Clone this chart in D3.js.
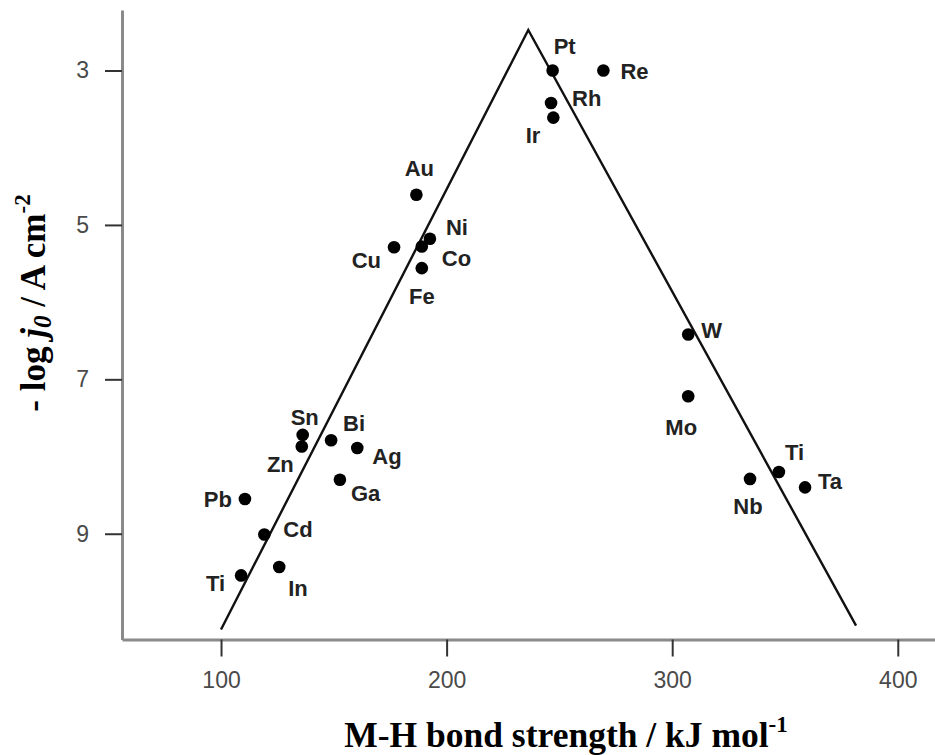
<!DOCTYPE html>
<html>
<head>
<meta charset="utf-8">
<script src="https://cdn.jsdelivr.net/npm/d3@7/dist/d3.min.js"></script>
<style>
  html, body { margin: 0; padding: 0; background: #fff; }
  svg { display: block; }
</style>
</head>
<body>
<svg id="chart" width="935" height="755"></svg>
<script>
// ---- data ----
const metals = ["Pt","Re","Rh","Ir","Au","Ni","Co","Cu","Fe","W","Mo","Ti","Nb","Ta","Sn","Zn","Bi","Ag","Ga","Pb","Cd","In","Ti"];
const bondStrength = [247.0,269.5,246.3,247.3,186.6,192.6,189.0,176.7,189.0,307.1,307.1,347.3,334.5,358.9,136.2,135.8,148.8,160.4,152.7,110.6,119.2,125.8,108.9];
const logJ0 = [3.0,3.0,3.42,3.61,4.61,5.18,5.28,5.29,5.56,6.42,7.22,8.20,8.29,8.40,7.72,7.87,7.79,7.89,8.30,8.55,9.01,9.43,9.54];
const volcanoX = [100, 236.2, 381.5];
const volcanoY = [10.24, 2.475, 10.19];
const xTicks = [100, 200, 300, 400];
const yTicks = [3, 5, 7, 9];

// ---- label placement (layout) ----
const labelPlace = [
  ["middle", 12, -24], ["start", 17, 1], ["start", 21, -5], ["end", -13, 17],
  ["middle", 3, -27], ["start", 16, -12], ["start", 20, 12], ["end", -13, 13],
  ["middle", 0, 28], ["start", 13, -4], ["middle", -7, 31], ["start", 6, -20],
  ["middle", -2, 27], ["start", 13, -6], ["middle", 2, -18], ["end", -8, 18],
  ["start", 12, -17], ["start", 15, 8], ["start", 11, 13], ["end", -13, 0],
  ["start", 19, -5], ["start", 9, 21], ["end", -16, 8]
];

const svg = d3.select("#chart");
const x = d3.scaleLinear().domain([56.1, 416.5]).range([122, 935]);
const y = d3.scaleLinear().domain([2.216, 10.37]).range([10, 639.5]);

// axes
const gx = svg.append("g").attr("transform", `translate(0,${y(10.37)})`)
  .call(d3.axisBottom(x).tickValues(xTicks).tickSize(17).tickSizeOuter(0).tickPadding(15));
const gy = svg.append("g").attr("transform", `translate(${x(56.1)},0)`)
  .call(d3.axisLeft(y).tickValues(yTicks).tickSize(17).tickSizeOuter(0).tickPadding(16));

[gx, gy].forEach(g => {
  g.select(".domain").attr("stroke", "#8a8a8a").attr("stroke-width", 3);
  g.selectAll(".tick line").attr("stroke", "#333").attr("stroke-width", 2);
  g.selectAll(".tick text").attr("fill", "#4a4a4a").attr("font-size", 23)
    .attr("font-family", "'Liberation Sans', Arial, sans-serif");
});

// volcano line
const line = d3.line().x(d => x(d[0])).y(d => y(d[1]));
svg.append("path")
  .datum(volcanoX.map((v, i) => [v, volcanoY[i]]))
  .attr("d", line).attr("fill", "none").attr("stroke", "#111").attr("stroke-width", 2.4);

// points
const pts = metals.map((m, i) => ({ m, bx: bondStrength[i], ly: logJ0[i], p: labelPlace[i] }));
svg.append("g").selectAll("circle").data(pts).join("circle")
  .attr("cx", d => x(d.bx)).attr("cy", d => y(d.ly)).attr("r", 6.3).attr("fill", "#000");

svg.append("g").selectAll("text").data(pts).join("text")
  .attr("x", d => x(d.bx) + d.p[1])
  .attr("y", d => y(d.ly) + d.p[2])
  .attr("dy", "0.36em")
  .attr("text-anchor", d => d.p[0])
  .attr("font-family", "'Liberation Sans', Arial, sans-serif")
  .attr("font-weight", "bold").attr("font-size", 22).attr("fill", "#222")
  .text(d => d.m);

// axis titles
const xt = svg.append("text")
  .attr("x", 566).attr("y", 747).attr("text-anchor", "middle")
  .attr("font-family", "'Liberation Serif', 'Times New Roman', serif")
  .attr("font-weight", "bold").attr("font-size", 35.5).attr("fill", "#000");
xt.append("tspan").text("M-H bond strength / kJ mol");
xt.append("tspan").attr("font-size", 23).attr("dy", -15).text("-1");

const yt = svg.append("text")
  .attr("transform", "translate(45,303) rotate(-90)")
  .attr("text-anchor", "middle")
  .attr("font-family", "'Liberation Serif', 'Times New Roman', serif")
  .attr("font-weight", "bold").attr("font-size", 35).attr("fill", "#000");
yt.append("tspan").text("- log ");
yt.append("tspan").attr("font-style", "italic").text("j");
yt.append("tspan").attr("font-style", "italic").attr("font-size", 25).attr("dy", 6).text("0");
yt.append("tspan").attr("dy", -6).text(" / A cm");
yt.append("tspan").attr("font-size", 23).attr("dy", -15).text("-2");
</script>
</body>
</html>
